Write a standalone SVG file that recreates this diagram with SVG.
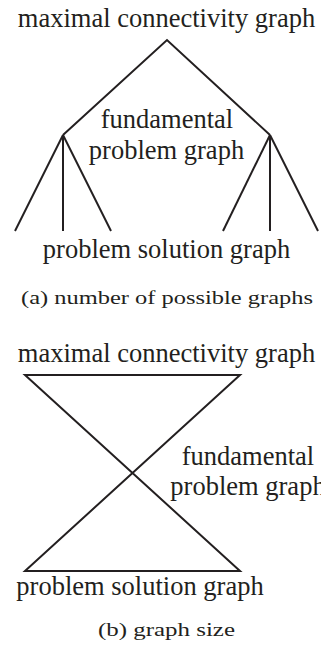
<svg xmlns="http://www.w3.org/2000/svg" width="321" height="648" viewBox="0 0 321 648">
<style>
.lbl{font-family:"Liberation Serif","Times New Roman",serif;font-size:26.5px;fill:#231f20;text-anchor:middle}
.cap{font-family:"Liberation Serif","Times New Roman",serif;font-size:18px;fill:#231f20;text-anchor:middle}
.ln{stroke:#231f20;stroke-width:2;fill:none;stroke-linejoin:miter}
</style>
<rect width="321" height="648" fill="#fff"/>
<g id="connectors">
<polyline class="ln" points="63,135 167,40 270,135"/>
<line class="ln" x1="63" y1="135" x2="15" y2="231"/>
<line class="ln" x1="63" y1="135" x2="63" y2="231"/>
<line class="ln" x1="63" y1="135" x2="111" y2="231"/>
<line class="ln" x1="270" y1="135" x2="223" y2="231"/>
<line class="ln" x1="270" y1="135" x2="270" y2="231"/>
<line class="ln" x1="270" y1="135" x2="318" y2="231"/>
<polygon class="ln" points="25,375 240,375 25,571 240,571"/>
</g>
<g id="a-max"><text class="lbl" x="166.5" y="27">maximal connectivity graph</text></g>
<g id="a-fund"><text class="lbl" x="167" y="128">fundamental</text><text class="lbl" x="166.5" y="159">problem graph</text></g>
<g id="a-sol"><text class="lbl" x="166.5" y="258">problem solution graph</text></g>
<g id="a-cap"><text class="cap" x="167" y="304" textLength="292" lengthAdjust="spacingAndGlyphs">(a) number of possible graphs</text></g>
<g id="b-max"><text class="lbl" x="166.5" y="362">maximal connectivity graph</text></g>
<g id="b-fund"><text class="lbl" x="248" y="465">fundamental</text><text class="lbl" x="248" y="495">problem graph</text></g>
<g id="b-sol"><text class="lbl" x="140" y="595">problem solution graph</text></g>
<g id="b-cap"><text class="cap" x="166.5" y="636" textLength="137" lengthAdjust="spacingAndGlyphs">(b) graph size</text></g>
</svg>
